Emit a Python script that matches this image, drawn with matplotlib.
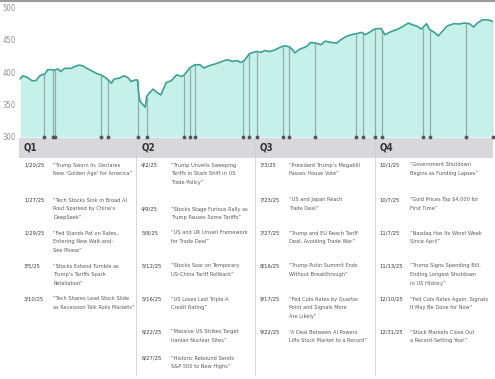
import numpy as np
import pandas as pd
import matplotlib
matplotlib.use("Agg")
import matplotlib.pyplot as plt
import matplotlib.dates as mdates
from matplotlib import font_manager as fm

# index level (calendar date -> value)
series_dates = [
    "01-02", "01-04", "01-07", "01-11", "01-14", "01-17", "01-21", "01-23", "01-26", "01-28",
    "01-31", "02-02", "02-05", "02-10", "02-13", "02-16", "02-19", "02-22", "02-27", "03-02",
    "03-05", "03-09", "03-13", "03-15", "03-19", "03-23", "03-26", "03-28", "03-31", "04-02",
    "04-03", "04-04", "04-08", "04-09", "04-11", "04-14", "04-17", "04-20", "04-24", "04-28",
    "05-02", "05-06", "05-08", "05-12", "05-16", "05-20", "05-23", "05-27", "06-01", "06-06",
    "06-10", "06-14", "06-18", "06-20", "06-23", "06-27", "07-02", "07-06", "07-09", "07-12",
    "07-16", "07-21", "07-24", "07-28", "08-01", "08-04", "08-10", "08-13", "08-17", "08-21",
    "08-24", "08-29", "09-02", "09-05", "09-09", "09-13", "09-17", "09-21", "09-24", "09-27",
    "10-01", "10-06", "10-09", "10-14", "10-19", "10-23", "10-27", "10-30", "11-03", "11-06",
    "11-10", "11-12", "11-16", "11-19", "11-22", "11-26", "12-01", "12-05", "12-09", "12-13",
    "12-16", "12-19", "12-23", "12-27", "12-31",
]
series_values = [
    390, 394.5, 392.5, 387, 387, 394.6, 397.7, 404, 404, 403,
    405, 401, 406, 406, 409, 411, 410, 406, 401, 397.7,
    396, 391, 383, 389.5, 391, 394.6, 391, 385.8, 388, 388,
    365, 355, 346, 362.5, 367.7, 374, 368.7, 365, 384, 387,
    396, 393.5, 396, 406.5, 411.6, 411.6, 406.5, 410, 413, 416.8,
    419.4, 416.8, 418, 415, 418, 428.7, 432, 431, 433.6, 432,
    434, 439, 441, 439, 430, 435, 440, 446, 445, 442.5,
    448, 446, 445, 450, 455, 458, 459.5, 461.5, 458, 461.5,
    466.7, 467.7, 458, 463, 466.7, 470.8, 476, 473.4, 470.8, 466.7,
    475, 466.7, 461.5, 456.3, 463, 471.8, 475, 474.5, 476, 475,
    469.8, 476, 481, 481, 478.5,
]

quarters = ["Q1", "Q2", "Q3", "Q4"]
quarter_starts = ["01-01", "04-01", "07-01", "10-01"]

q1_dates = ["1/20/25", "1/27/25", "1/29/25", "3/5/25", "3/10/25"]
q1_heads = [
    "“Trump Sworn In, Declares\nNew ‘Golden Age’ for America”",
    "“Tech Stocks Sink in Broad AI\nRout Sparked by China’s\nDeepSeek”",
    "“Fed Stands Pat on Rates,\nEntering New Wait-and-\nSee Phase”",
    "“Stocks Extend Tumble as\nTrump’s Tariffs Spark\nRetaliation”",
    "“Tech Shares Lead Stock Slide\nas Recession Talk Roils Markets”",
]
q2_dates = ["4/2/25", "4/9/25", "5/8/25", "5/12/25", "5/16/25", "6/22/25", "6/27/25"]
q2_heads = [
    "“Trump Unveils Sweeping\nTariffs in Stark Shift in US\nTrade Policy”",
    "“Stocks Stage Furious Rally as\nTrump Pauses Some Tariffs”",
    "“US and UK Unveil Framework\nfor Trade Deal”",
    "“Stocks Soar on Temporary\nUS-China Tariff Rollback”",
    "“US Loses Last Triple-A\nCredit Rating”",
    "“Massive US Strikes Target\nIranian Nuclear Sites”",
    "“Historic Rebound Sends\nS&P 500 to New Highs”",
]
q3_dates = ["7/3/25", "7/23/25", "7/27/25", "8/16/25", "9/17/25", "9/22/25"]
q3_heads = [
    "“President Trump’s Megabill\nPasses House Vote”",
    "“US and Japan Reach\nTrade Deal”",
    "“Trump and EU Reach Tariff\nDeal, Avoiding Trade War”",
    "“Trump-Putin Summit Ends\nWithout Breakthrough”",
    "“Fed Cuts Rates by Quarter\nPoint and Signals More\nAre Likely”",
    "“A Deal Between AI Powers\nLifts Stock Market to a Record”",
]
q4_dates = ["10/1/25", "10/7/25", "11/7/25", "11/13/25", "12/10/25", "12/31/25"]
q4_heads = [
    "“Government Shutdown\nBegins as Funding Lapses”",
    "“Gold Prices Top \\$4,000 for\nFirst Time”",
    "“Nasdaq Has Its Worst Week\nSince April”",
    "“Trump Signs Spending Bill,\nEnding Longest Shutdown\nin US History”",
    "“Fed Cuts Rates Again, Signals\nIt May Be Done for Now”",
    "“Stock Markets Close Out\na Record-Setting Year”",
]
yticks = [300, 350, 400, 450, 500]

# layout: centre of first text line of each entry (pixels from top)
row_centres = {
    "Q1": [165, 200, 233, 266, 299],
    "Q2": [165, 209, 233, 266, 299, 332, 358],
    "Q3": [165, 200, 233, 266, 299, 332],
    "Q4": [165, 200, 233, 266, 299, 332],
}
LINE_PITCH = 8.8

W, H = 495, 379
LINE = "#3f9f95"
FILL = "#c6f1e9"
EVT = "#8fb0aa"

# pick the narrowest sans that is installed
ttf = fm.fontManager.ttflist
def installed(name, stretches=None):
    return any(f.name == name and (stretches is None or f.stretch in stretches) for f in ttf)

cond = ("condensed", "semi-condensed", "extra-condensed", 75, 87, 62)
if installed("Liberation Sans Narrow"):
    FONT = dict(family=["Liberation Sans Narrow", "DejaVu Sans"])
elif installed("DejaVu Sans", cond):
    FONT = dict(family=["DejaVu Sans"], stretch="condensed")
elif installed("Noto Sans", cond):
    FONT = dict(family=["Noto Sans", "DejaVu Sans"], stretch="condensed")
else:
    FONT = dict(family=["Roboto", "DejaVu Sans"])

dates = pd.to_datetime(["2025-" + d for d in series_dates])
x = mdates.date2num(dates)
vals = np.array(series_values)

fig = plt.figure(figsize=(W / 100, H / 100), dpi=100)
fig.patch.set_facecolor("white")

# overlay for the table part, in pixel coordinates
tab = fig.add_axes([0, 0, 1, 1])
tab.set_xlim(0, W)
tab.set_ylim(H, 0)
tab.axis("off")

ax = fig.add_axes([19 / W, 1 - 137 / H, 474 / W, 129.5 / H])
ax.fill_between(x, 300, vals, color=FILL, lw=0, zorder=1)
ax.plot(x, vals, color=LINE, lw=1.2, zorder=3)
ax.set_xlim(mdates.date2num(pd.Timestamp("2025-01-01")), x[-1])
ax.set_ylim(300, 500)
ax.set_yticks(yticks)
ax.set_yticklabels([str(v) for v in yticks], fontsize=5.5, color="#909090", **FONT)
ax.tick_params(axis="y", length=0, pad=2.5)
ax.set_xticks([])
for s in ax.spines.values():
    s.set_visible(False)
ax.patch.set_alpha(0)

all_dates = q1_dates + q2_dates + q3_dates + q4_dates
ev = mdates.date2num(pd.to_datetime(all_dates, format="%m/%d/%y"))
ev_top = np.interp(ev, x, vals)
ax.vlines(ev, 300, ev_top, color=EVT, lw=0.9, zorder=2)
ax.scatter(ev, np.full(len(ev), 300), s=3, color="#555555", zorder=4, clip_on=False)

fig.canvas.draw()
renderer = fig.canvas.get_renderer()

# size the headline text so the longest Q1 line spans ~82 px as in the reference
probe = tab.text(0, 0, "as Recession Talk Roils Markets”", fontsize=10, **FONT)
pw = probe.get_window_extent(renderer).width
probe.remove()
FS = min(6.0, 10 * 82 / pw)

def to_px(d):
    return ax.transData.transform((mdates.date2num(pd.Timestamp("2025-" + d)), 300))[0]

qx = [to_px(d) for d in quarter_starts]
right_px = ax.transData.transform((x[-1], 300))[0]

# top rule
tab.plot([0, W], [0.8, 0.8], color="#9c9c9c", lw=1.6)
# quarter header band
tab.add_patch(plt.Rectangle((qx[0], 138), right_px - qx[0], 20, color="#d8d8db", lw=0))
for i in range(1, 4):
    tab.plot([qx[i], qx[i]], [138, H - 4], color="#cfcfcf", lw=0.6)

cols = [(q1_dates, q1_heads), (q2_dates, q2_heads), (q3_dates, q3_heads), (q4_dates, q4_heads)]
quote_off = [29, 30, 29, 31]
for i, (q, (ds, hs)) in enumerate(zip(quarters, cols)):
    x0 = qx[i] + 5
    tab.text(x0, 148, q, fontsize=7, fontweight="bold", color="#333333",
             va="center", ha="left", **FONT)
    for d, h, yc in zip(ds, hs, row_centres[q]):
        tab.text(x0, yc, d, fontsize=FS + 0.2, fontweight="medium", color="#383838",
                 va="center", ha="left", **FONT)
        for k, line in enumerate(h.split("\n")):
            tab.text(x0 + quote_off[i], yc + k * LINE_PITCH, line, fontsize=FS,
                     color="#5a5a5a", va="center", ha="left", **FONT)

fig.savefig("out.png", dpi=100, facecolor="white")
